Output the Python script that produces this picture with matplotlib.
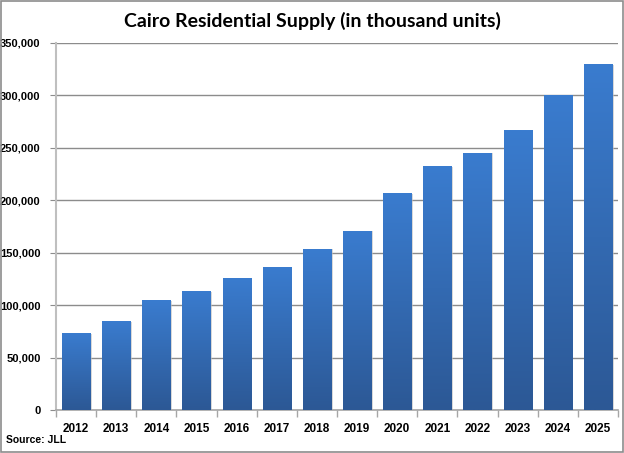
import matplotlib
matplotlib.use("Agg")
import matplotlib.pyplot as plt
import numpy as np
from matplotlib.colors import LinearSegmentedColormap
from matplotlib.patches import Rectangle
from matplotlib.ticker import FuncFormatter, MultipleLocator, FixedLocator

years = ["2012", "2013", "2014", "2015", "2016", "2017", "2018",
         "2019", "2020", "2021", "2022", "2023", "2024", "2025"]
supply = [73500, 85000, 104500, 113500, 126000, 136500, 154000,
          171000, 207000, 232500, 245500, 267000, 300500, 330000]

fig = plt.figure(figsize=(6.24, 4.53), dpi=100)
ax = fig.add_axes([56/624, 1-410/453, (618-56)/624, (410-43)/453])

x = np.arange(len(years))
width = 0.7
bars = ax.bar(x, supply, width=width, color="none", edgecolor="none", zorder=3)

cmap = LinearSegmentedColormap.from_list("g", ["#2c5895", "#3a7ccf"])
grad = np.linspace(0, 1, 256).reshape(-1, 1)
for b in bars:
    x0, w, h = b.get_x(), b.get_width(), b.get_height()
    sh = Rectangle((x0 + 0.04, 0), w, h - 600, facecolor="#bfbfbf", edgecolor="none",
                   alpha=0.6, zorder=2)
    ax.add_patch(sh)
    im = ax.imshow(grad, extent=[x0, x0 + w, 0, h], origin="lower", cmap=cmap,
                   aspect="auto", zorder=3, interpolation="bilinear")
    clip = Rectangle((x0, 0), w, h, transform=ax.transData, facecolor="none", edgecolor="none")
    ax.add_patch(clip)
    im.set_clip_path(clip)

ax.set_xlim(-0.5, len(years) - 0.5)
ax.set_ylim(0, 350000)
ax.yaxis.set_major_locator(MultipleLocator(50000))
ax.yaxis.set_major_formatter(FuncFormatter(lambda v, p: f"{int(v):,}"))
ax.grid(axis="y", color="#8c8c8c", linewidth=1.0, zorder=1)
ax.set_axisbelow(True)

ax.set_xticks(x)
ax.set_xticklabels(years)
ax.xaxis.set_minor_locator(FixedLocator(np.arange(-0.5, len(years), 1.0)))
ax.tick_params(axis="x", which="major", length=0, pad=9)
ax.tick_params(axis="x", which="minor", length=5, color="#a6a6a6", width=1)
ax.tick_params(axis="y", length=4, color="#8c8c8c", pad=7)
for lab in ax.get_xticklabels():
    lab.set_fontweight("bold")
    lab.set_fontsize(8.5)
    lab.set_family("Liberation Sans")
for lab in ax.get_yticklabels():
    lab.set_fontweight("bold")
    lab.set_fontsize(8)
    lab.set_family("Liberation Sans")

for s in ["top", "right"]:
    ax.spines[s].set_visible(False)
ax.spines["left"].set_color("#bfbfbf")
ax.spines["left"].set_linewidth(1.5)
ax.spines["bottom"].set_color("#a6a6a6")
ax.spines["bottom"].set_linewidth(1.2)

fig.text(0.5, 1 - 21/453, "Cairo Residential Supply (in thousand units)",
         ha="center", va="center", fontsize=14, family="Lato", fontweight="bold")
fig.text(6/624, 1 - 440/453, "Source: JLL", ha="left", va="center",
         fontsize=7.5, fontweight="bold", family="Liberation Sans")

border = Rectangle((0.001, 0.002), 0.997, 0.996, transform=fig.transFigure,
                   facecolor="none", edgecolor="#8c8c8c", linewidth=1.2)
fig.patches.append(border)

fig.savefig("out.png", dpi=100)
